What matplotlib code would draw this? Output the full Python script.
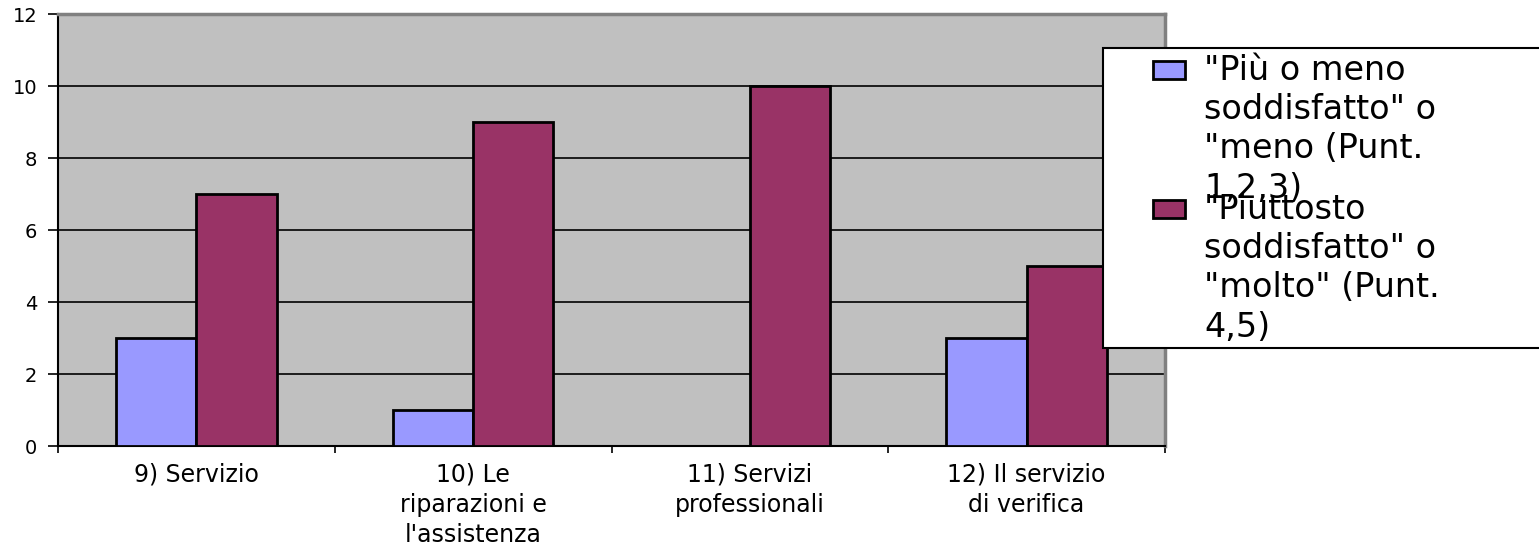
import matplotlib.pyplot as plt
import matplotlib.patches as patches
import numpy as np

categories = ["9) Servizio", "10) Le\nriparazioni e\nl'assistenza",
              "11) Servizi\nprofessionali", "12) Il servizio\ndi verifica"]
less_satisfied = [3, 1, 0, 3]
more_satisfied = [7, 9, 10, 5]
series_labels = ["\"Più o meno\nsoddisfatto\" o\n\"meno (Punt.\n1,2,3)",
                 "\"Piuttosto\nsoddisfatto\" o\n\"molto\" (Punt.\n4,5)"]
y_ticks = [0, 2, 4, 6, 8, 10, 12]

blue = '#9999FF'
maroon = '#993366'
W, H = 1539, 547

plt.rcParams['font.family'] = ['DejaVu Sans']
fig = plt.figure(figsize=(W / 100, H / 100), dpi=100)
ax = fig.add_axes([58 / W, 1 - 446 / H, (1165 - 58) / W, (446 - 14) / H])
ax.set_facecolor('#C0C0C0')

x = np.arange(len(categories))
bw = 0.29
ax.bar(x - bw / 2, less_satisfied, bw, color=blue, edgecolor='black', linewidth=2, zorder=3)
ax.bar(x + bw / 2, more_satisfied, bw, color=maroon, edgecolor='black', linewidth=2, zorder=3)

ax.set_xlim(-0.5, len(categories) - 0.5)
ax.set_ylim(0, 12)
ax.set_yticks(y_ticks)
ax.set_yticklabels([str(v) for v in y_ticks], fontsize=14)
ax.yaxis.grid(True, color='black', linewidth=1.2)
ax.set_axisbelow(True)

ax.set_xticks(x)
ax.set_xticklabels(categories, fontsize=17, linespacing=1.32)
ax.set_xticks(np.arange(-0.5, len(categories)), minor=True)
ax.tick_params(axis='x', which='major', length=0, pad=12)
ax.tick_params(axis='x', which='minor', length=5, width=1.2)
ax.tick_params(axis='y', length=7, width=1.2, pad=8)

for s in ['top', 'right']:
    ax.spines[s].set_color('#808080')
    ax.spines[s].set_linewidth(2.5)
for s in ['left', 'bottom']:
    ax.spines[s].set_color('black')
    ax.spines[s].set_linewidth(1.5)

# legend box drawn by hand so the swatch sits on the first line
box = patches.Rectangle((1103 / W, 1 - 348 / H), (W + 10 - 1103) / W, 300 / H,
                        transform=fig.transFigure, facecolor='white',
                        edgecolor='black', linewidth=1.5, zorder=5)
fig.patches.append(box)
for i, (lab, col) in enumerate(zip(series_labels, [blue, maroon])):
    off = i * 139
    sw = patches.Rectangle((1153 / W, 1 - (79 + off) / H), 32 / W, 18 / H,
                           transform=fig.transFigure, facecolor=col,
                           edgecolor='black', linewidth=2, zorder=6)
    fig.patches.append(sw)
    fig.text(1204 / W, 1 - (54 + off) / H, lab, fontsize=24, va='top',
             ha='left', linespacing=1.24, zorder=7)

fig.savefig('out.png', dpi=100)
